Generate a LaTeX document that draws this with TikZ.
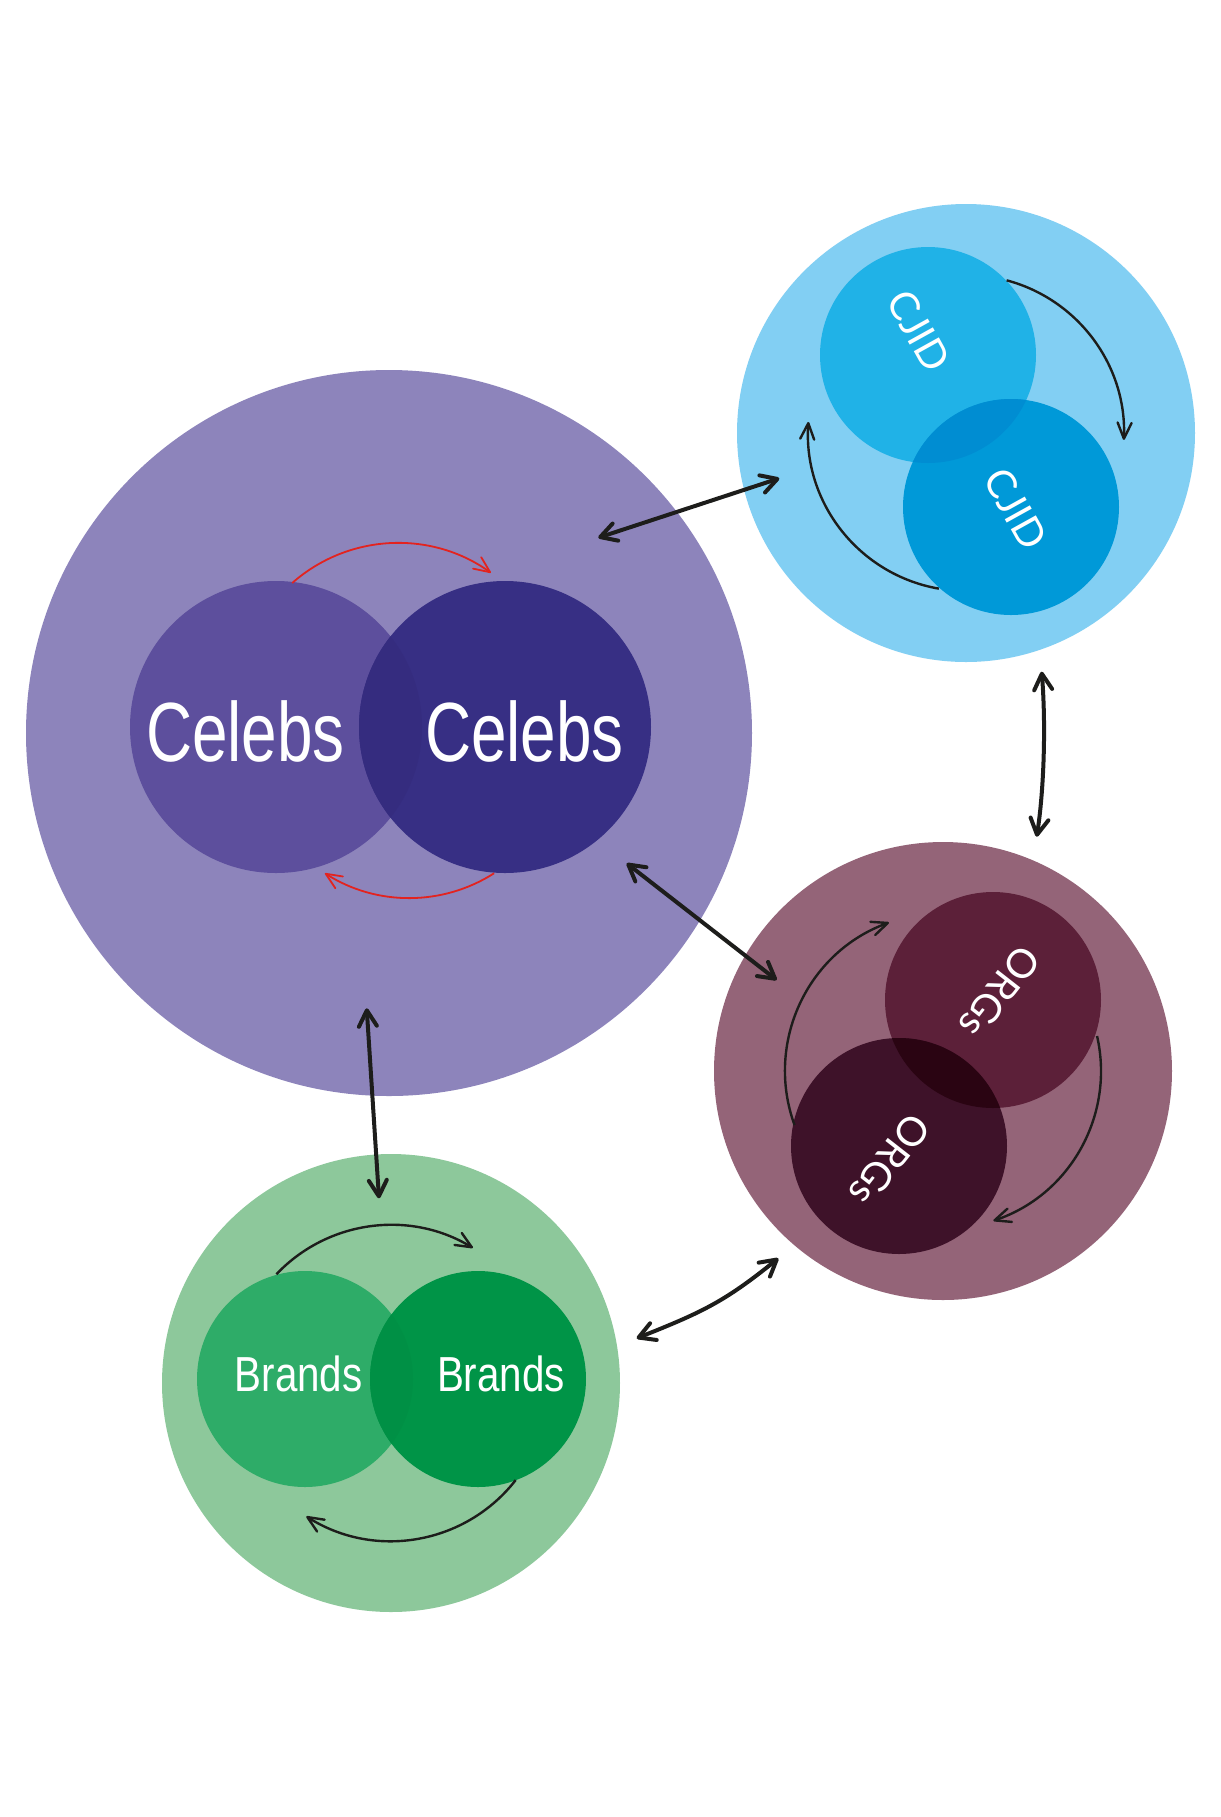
\documentclass[tikz,border=0pt]{standalone}
\usepackage{fontspec}
\setmainfont{Liberation Sans}
\newfontfamily\celebfont[FakeStretch=0.76]{Liberation Sans}
\newfontfamily\brandfont[FakeStretch=0.82]{Liberation Sans}
\newfontfamily\labfont{Lato}
\usetikzlibrary{arrows.meta}
\definecolor{cPurpleOut}{HTML}{8D84BB}
\definecolor{cCelebL}{HTML}{5D4F9D}
\definecolor{cCelebR}{HTML}{372F84}
\definecolor{cCelebLR}{HTML}{352C7F}
\definecolor{cCjidOut}{HTML}{82CFF3}
\definecolor{cCjidA}{HTML}{20B2E7}
\definecolor{cCjidB}{HTML}{0099D8}
\definecolor{cCjidAB}{HTML}{008DD2}
\definecolor{cOrgsOut}{HTML}{946478}
\definecolor{cOrgsA}{HTML}{5C2039}
\definecolor{cOrgsB}{HTML}{3E1229}
\definecolor{cOrgsAB}{HTML}{2A0412}
\definecolor{cBrandOut}{HTML}{8DC89B}
\definecolor{cBrandL}{HTML}{2EAC68}
\definecolor{cBrandR}{HTML}{009447}
\definecolor{cBrandLR}{HTML}{009045}
\definecolor{ink}{HTML}{1D1D1B}
\definecolor{redarr}{HTML}{E3231F}
\begin{document}
\begin{tikzpicture}[x=0.5pt,y=-0.5pt,
  disc/.style={circle,inner sep=0pt,draw=none},
  conn/.style={line width=2pt,draw=ink,>={Straight Barb[length=8pt,width=9pt,round]},<->},
  loopar/.style={line width=1.2pt,draw=ink,->,>={Straight Barb[length=8pt,width=7pt,round]}},
  redloop/.style={line width=0.9pt,draw=redarr,->,>={Straight Barb[length=8pt,width=7pt,round]}},
  celebtxt/.style={text=white,inner sep=0pt,font=\celebfont\fontsize{42}{46}\selectfont},
  brandtxt/.style={text=white,inner sep=0pt,font=\brandfont\fontsize{24.6}{28}\selectfont},
  labtxt/.style={text=white,inner sep=0pt,font=\labfont\fontsize{20}{24}\selectfont}
]
\useasboundingbox (0,0) rectangle (1221,1817);
\fill[white] (0,0) rectangle (1221,1817);

% ---------- Celebs ----------
\node[disc,fill=cPurpleOut,minimum size=363pt] (celebs) at (389,733) {};
\node[disc,fill=cCelebL,minimum size=146pt] (celebL) at (276,727) {};
\node[disc,fill=cCelebR,minimum size=146pt] (celebR) at (505,727) {};
\begin{scope}
  \clip (celebL.center) circle[radius=73pt];
  \fill[cCelebLR] (celebR.center) circle[radius=73pt];
\end{scope}
\node[celebtxt] (celebLt) at (245.5,731) {Celebs};
\node[celebtxt] (celebRt) at (524.5,731) {Celebs};
\coordinate (rtop) at (398,703);
\coordinate (rbot) at (409.5,741);
\draw[redloop] ([shift={(131.4:80pt)}]rtop) arc[start angle=131.4,end angle=54.5,radius=80pt];
\draw[redloop] ([shift={(-57.4:78.5pt)}]rbot) arc[start angle=-57.4,end angle=-122.6,radius=78.5pt];

% ---------- CJID ----------
\node[disc,fill=cCjidOut,minimum size=229pt] (cjid) at (966,433) {};
\node[disc,fill=cCjidA,minimum size=108pt] (cjidA) at (928,355) {};
\node[disc,fill=cCjidB,minimum size=108pt] (cjidB) at (1011,507) {};
\begin{scope}
  \clip (cjidA.center) circle[radius=54pt];
  \fill[cCjidAB] (cjidB.center) circle[radius=54pt];
\end{scope}
\node[labtxt,rotate=-61] (cjidAt) at (919,331) {CJID};
\node[labtxt,rotate=-61] (cjidBt) at (1016,509) {CJID};
\draw[loopar] ([shift={(75.1:79pt)}]cjid.center) arc[start angle=75.1,end angle=-2.5,radius=79pt];
\draw[loopar] ([shift={(-99.9:79pt)}]cjid.center) arc[start angle=-99.9,end angle=-184,radius=79pt];

% ---------- ORGs ----------
\node[disc,fill=cOrgsOut,minimum size=229pt] (orgs) at (943,1071) {};
\node[disc,fill=cOrgsA,minimum size=108pt] (orgsA) at (993,1000) {};
\node[disc,fill=cOrgsB,minimum size=108pt] (orgsB) at (899,1146) {};
\begin{scope}
  \clip (orgsA.center) circle[radius=54pt];
  \fill[cOrgsAB] (orgsB.center) circle[radius=54pt];
\end{scope}
\node[labtxt,rotate=-128] (orgsAt) at (1000,992) {ORGs};
\node[labtxt,rotate=-128] (orgsBt) at (890,1160) {ORGs};
\draw[loopar] ([shift={(-160:79pt)}]orgs.center) arc[start angle=-160,end angle=-250,radius=79pt];
\draw[loopar] ([shift={(12.8:79pt)}]orgs.center) arc[start angle=12.8,end angle=-71.4,radius=79pt];

% ---------- Brands ----------
\node[disc,fill=cBrandOut,minimum size=229pt] (brands) at (391,1383) {};
\node[disc,fill=cBrandL,minimum size=108pt] (brandL) at (305,1379) {};
\node[disc,fill=cBrandR,minimum size=108pt] (brandR) at (478,1379) {};
\begin{scope}
  \clip (brandL.center) circle[radius=54pt];
  \fill[cBrandLR] (brandR.center) circle[radius=54pt];
\end{scope}
\node[brandtxt] (brandLt) at (298.7,1374.3) {Brands};
\node[brandtxt] (brandRt) at (501,1374.3) {Brands};
\draw[loopar] ([shift={(136.5:79pt)}]brands.center) arc[start angle=136.5,end angle=58.8,radius=79pt];
\draw[loopar] ([shift={(-37.9:79pt)}]brands.center) arc[start angle=-37.9,end angle=-122.4,radius=79pt];

% ---------- connectors ----------
\coordinate (e1a) at (598.3,537.7);  \coordinate (e1b) at (779.3,478.3);
\coordinate (e2a) at (626.7,863.3);  \coordinate (e2b) at (776.7,980);
\coordinate (e3a) at (366.7,1008.3); \coordinate (e3b) at (379,1198.3);
\coordinate (e4a) at (1041.7,671.7); \coordinate (e4b) at (1036.7,836.7);
\coordinate (e5a) at (636.7,1338.3); \coordinate (e5b) at (778.3,1258.3);
\draw[conn] (e1a) -- (e1b);
\draw[conn] (e2a) -- (e2b);
\draw[conn] (e3a) -- (e3b);
\draw[conn] (e4a) .. controls (1046,725) and (1044,790) .. (e4b);
\draw[conn] (e5a) .. controls +(65,-26) and +(-54.4,44) .. (e5b);
\end{tikzpicture}
\end{document}
